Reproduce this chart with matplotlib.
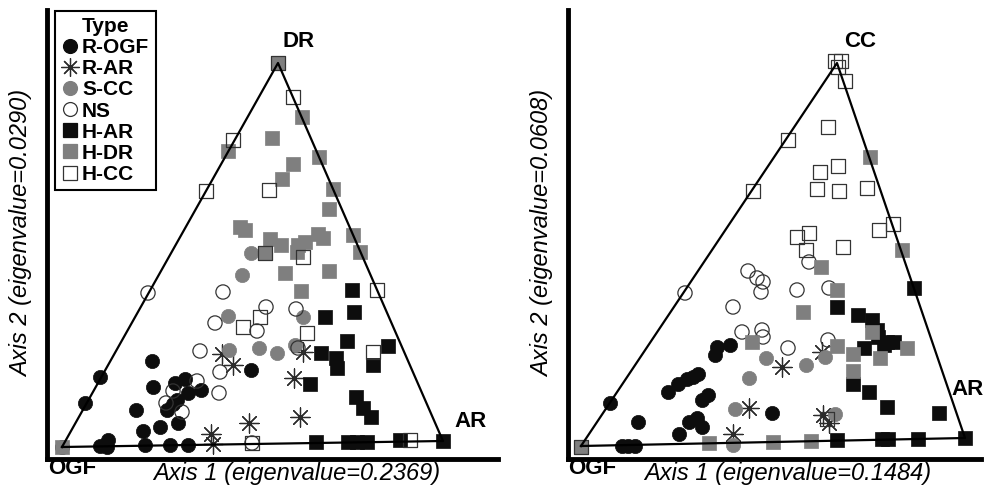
import numpy as np
import matplotlib.pyplot as plt
from matplotlib.lines import Line2D

plt.rcParams['font.family'] = ['Liberation Sans', 'DejaVu Sans']

# ---- left panel: OGF / DR / AR (axis scores) ----
dr_r_ogf = np.array([(15, 12), (38, 56), (53, 82), (53, 13), (61, 19), (60, 12), (98, 14), (123, 14),
                     (141, 14), (105, 98), (106, 72), (89, 49), (96, 28), (113, 32), (131, 36), (128, 76),
                     (138, 80), (141, 66), (154, 69), (130, 59), (126, 55), (120, 49), (204, 89)])
dr_r_ar = np.array([(175, 105), (186, 94), (247, 81), (202, 36), (253, 42), (164, 25), (166, 15), (256, 107)])
dr_s_cc = np.array([(204, 206), (195, 184), (181, 143), (256, 142), (182, 109), (212, 111), (230, 106), (248, 114)])
dr_ns = np.array([(101, 166), (176, 167), (168, 136), (219, 152), (210, 128), (249, 150), (153, 108), (173, 87),
                  (172, 66), (150, 78), (126, 68), (119, 56), (135, 47), (251, 111), (205, 16)])
dr_h_ar = np.array([(305, 169), (278, 142), (307, 147), (300, 118), (341, 113), (326, 94), (274, 106), (289, 101),
                    (290, 91), (263, 75), (309, 62), (316, 51), (324, 42), (269, 17), (301, 17), (310, 17),
                    (320, 17), (353, 19), (396, 18)])
dr_h_dr = np.array([(231, 396), (255, 342), (225, 321), (181, 308), (272, 302), (246, 295), (235, 280), (286, 270),
                    (282, 250), (193, 232), (198, 229), (306, 224), (223, 220), (234, 214), (251, 214), (258, 217),
                    (271, 225), (276, 221), (313, 207), (218, 206), (250, 207), (238, 186), (282, 188), (254, 168),
                    (15, 12)])
dr_h_cc = np.array([(231, 396), (246, 362), (186, 319), (159, 268), (222, 269), (218, 206), (256, 202), (330, 169),
                    (213, 142), (196, 132), (260, 126), (326, 107), (205, 16), (363, 19)])
dr_corners = np.array([(15, 12), (231, 396), (396, 18)])

# ---- right panel: OGF / CC / AR ----
cc_r_ogf = np.array([(54, 13), (60, 13), (67, 13), (42, 56), (70, 37), (111, 25), (121, 37), (129, 41), (134, 32),
                     (134, 59), (140, 64), (100, 67), (110, 75), (119, 80), (125, 82), (130, 85), (147, 104),
                     (149, 112), (162, 114), (204, 46)])
cc_r_ar = np.array([(165, 25), (181, 51), (214, 92), (254, 107), (255, 44), (261, 36)])
cc_s_cc = np.array([(165, 14), (167, 50), (181, 81), (198, 101), (238, 94), (257, 102), (267, 45)])
cc_ns = np.array([(117, 166), (180, 188), (189, 181), (195, 177), (193, 167), (165, 152), (174, 127), (194, 129),
                  (195, 122), (220, 111), (229, 169), (241, 197), (261, 171), (260, 119)])
cc_h_ar = np.array([(346, 171), (269, 152), (290, 144), (304, 139), (309, 129), (310, 122), (319, 117), (326, 117),
                    (316, 114), (296, 111), (285, 75), (301, 67), (319, 52), (371, 46), (269, 19), (314, 20),
                    (320, 20), (350, 20), (397, 21)])
cc_h_dr = np.array([(13, 12), (302, 302), (334, 209), (253, 192), (269, 169), (235, 147), (184, 117), (269, 113),
                    (285, 105), (312, 101), (339, 111), (304, 127), (285, 88), (141, 16), (205, 17), (243, 18)])
cc_h_cc = np.array([(267, 398), (273, 398), (270, 392), (277, 378), (260, 332), (220, 319), (252, 287), (270, 293),
                    (249, 270), (271, 268), (299, 271), (185, 268), (241, 226), (229, 222), (238, 209), (275, 212),
                    (311, 229), (325, 235), (259, 40), (13, 12)])
cc_corners = np.array([(13, 13), (269, 396), (397, 21)])

types = ['R-OGF', 'R-AR', 'S-CC', 'NS', 'H-AR', 'H-DR', 'H-CC']

gray = '#7f7f7f'
styles = {
    'R-OGF': dict(marker='o', facecolor='#0d0d0d', edgecolor='#0d0d0d', linewidths=0.5),
    'R-AR': dict(marker=(8, 2, 0), color='#2a2a2a', linewidths=0.9),
    'S-CC': dict(marker='o', facecolor=gray, edgecolor=gray, linewidths=0.5),
    'NS': dict(marker='o', facecolor='none', edgecolor='#333333', linewidths=0.9),
    'H-AR': dict(marker='s', facecolor='#0d0d0d', edgecolor='#0d0d0d', linewidths=0.5),
    'H-DR': dict(marker='s', facecolor=gray, edgecolor=gray, linewidths=0.5),
    'H-CC': dict(marker='s', facecolor='none', edgecolor='#333333', linewidths=0.9),
}
sizes = {'R-OGF': 105, 'R-AR': 190, 'S-CC': 105, 'NS': 105, 'H-AR': 105, 'H-DR': 105, 'H-CC': 105}


def draw_panel(ax, groups, corners, corner_names, label_pos, width, height):
    for t, pts in zip(types, groups):
        ax.scatter(pts[:, 0], pts[:, 1], s=sizes[t], zorder=2, clip_on=False, **styles[t])
    tri = np.vstack([corners, corners[:1]])
    ax.plot(tri[:, 0], tri[:, 1], color='black', lw=1.6, zorder=3, clip_on=False)
    for name, (x, y) in zip(corner_names, label_pos):
        ax.text(x, y, name, fontsize=16, fontweight='bold', ha='center', va='center', clip_on=False)
    ax.set_xlim(0, width)
    ax.set_ylim(0, height)
    ax.set_xticks([])
    ax.set_yticks([])
    for side in ['top', 'right']:
        ax.spines[side].set_visible(False)
    for side in ['left', 'bottom']:
        ax.spines[side].set_linewidth(3.5)


W, H = 987, 494
fig = plt.figure(figsize=(W / 100, H / 100), dpi=100)

ax1 = fig.add_axes([47 / W, 1 - 459 / H, 451 / W, 449 / H])
draw_panel(ax1, [dr_r_ogf, dr_r_ar, dr_s_cc, dr_ns, dr_h_ar, dr_h_dr, dr_h_cc], dr_corners,
           ['OGF', 'DR', 'AR'], [(25, -9), (252, 418), (424, 38)], 451, 449)

ax2 = fig.add_axes([568 / W, 1 - 459 / H, 413 / W, 449 / H])
draw_panel(ax2, [cc_r_ogf, cc_r_ar, cc_s_cc, cc_ns, cc_h_ar, cc_h_dr, cc_h_cc], cc_corners,
           ['OGF', 'CC', 'AR'], [(24, -9), (292, 418), (400, 70)], 413, 449)

# axis titles
fig.text(297 / W, 1 - 473 / H, 'Axis 1 (eigenvalue=0.2369)', fontsize=17, style='italic',
         ha='center', va='center')
fig.text(788 / W, 1 - 473 / H, 'Axis 1 (eigenvalue=0.1484)', fontsize=17, style='italic',
         ha='center', va='center')
fig.text(22 / W, 1 - 233 / H, 'Axis 2 (eigenvalue=0.0290)', fontsize=17, style='italic',
         ha='center', va='center', rotation=90)
fig.text(543 / W, 1 - 233 / H, 'Axis 2 (eigenvalue=0.0608)', fontsize=17, style='italic',
         ha='center', va='center', rotation=90)

# legend
handles = []
for t in types:
    st = styles[t]
    if t == 'R-AR':
        h = Line2D([], [], ls='none', marker=st['marker'], color=st['color'], markersize=13,
                   markeredgewidth=0.9)
    else:
        h = Line2D([], [], ls='none', marker=st['marker'], markerfacecolor=st['facecolor'],
                   markeredgecolor=st['edgecolor'], markersize=10, markeredgewidth=0.9)
    handles.append(h)
leg = ax1.legend(handles, types, title='Type', loc='upper left',
                 bbox_to_anchor=(55 / W, 1 - 11 / H), bbox_transform=fig.transFigure,
                 borderaxespad=0, prop={'weight': 'bold', 'size': 15},
                 title_fontproperties={'weight': 'bold', 'size': 15},
                 fancybox=False, framealpha=1, edgecolor='black',
                 handlelength=0.8, handletextpad=0.2, labelspacing=0.1, borderpad=0.3)
leg.get_frame().set_linewidth(1.5)

fig.savefig('out.png', dpi=100)
